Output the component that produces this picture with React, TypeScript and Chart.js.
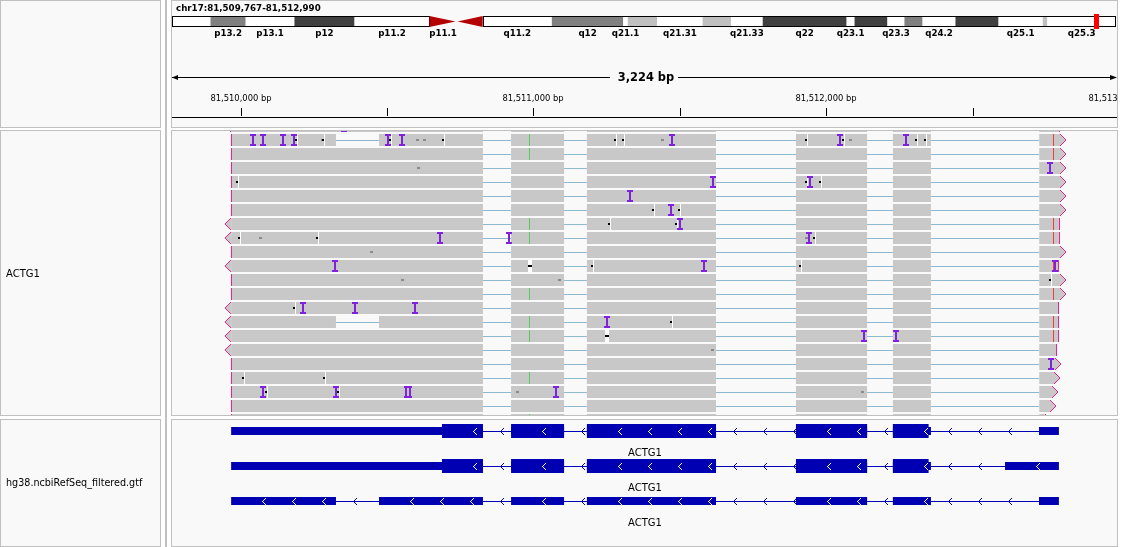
import React, { useEffect, useRef } from 'react';
import { Chart, registerables } from 'chart.js';

Chart.register(...registerables);

/* ---------------- data ---------------- */
const CHROM = 'chr17';
const CHROM_LENGTH = 83257441;
const REGION_START = 81509766;
const REGION_END = 81512990;

const BAND_NAMES = ['p13.3', 'p13.2', 'p13.1', 'p12', 'p11.2', 'p11.1', 'q11.1', 'q11.2', 'q12', 'q21.1', 'q21.2', 'q21.31', 'q21.32', 'q21.33', 'q22', 'q23.1', 'q23.2', 'q23.3', 'q24.1', 'q24.2', 'q24.3', 'q25.1', 'q25.2', 'q25.3'];
const BAND_STARTS = [0, 3400000, 6500000, 10800000, 16100000, 22700000, 25100000, 27400000, 33500000, 39800000, 40200000, 42800000, 46800000, 49300000, 52100000, 59500000, 60200000, 63100000, 64600000, 66200000, 69100000, 72900000, 76800000, 77200000];
const BAND_ENDS = [3400000, 6500000, 10800000, 16100000, 22700000, 25100000, 27400000, 33500000, 39800000, 40200000, 42800000, 46800000, 49300000, 52100000, 59500000, 60200000, 63100000, 64600000, 66200000, 69100000, 72900000, 76800000, 77200000, 83257441];
const BAND_STAINS = ['gneg', 'gpos50', 'gneg', 'gpos75', 'gneg', 'acen', 'acen', 'gneg', 'gpos50', 'gneg', 'gpos25', 'gneg', 'gpos25', 'gneg', 'gpos75', 'gneg', 'gpos75', 'gneg', 'gpos50', 'gneg', 'gpos75', 'gneg', 'gpos25', 'gneg'];
const BAND_LABELLED = [false, true, true, true, true, true, false, true, true, true, false, true, false, true, true, true, false, true, false, true, false, true, false, true];

const RULER_TICKS = [81510000, 81510500, 81511000, 81511500, 81512000, 81512500, 81513000];

const TRACK_NAMES = ['ACTG1', 'hg38.ncbiRefSeq_filtered.gtf'];

// alignments (row index, strand, end position)
const READ_ROWS = [-1, 0, 1, 2, 3, 4, 5, 6, 7, 8, 9, 10, 11, 12, 13, 14, 15, 16, 17, 18, 19, 20];
const READ_STRANDS = ['-', '+', '+', '+', '+', '+', '+', '-', '-', '+', '-', '+', '+', '-', '-', '-', '-', '+', '+', '+', '+', '+'];
const READ_ENDS = [81512799, 81512799, 81512799, 81512799, 81512799, 81512799, 81512799, 81512799, 81512799, 81512799, 81512795, 81512799, 81512799, 81512795, 81512794, 81512794, 81512788, 81512783, 81512779, 81512773, 81512765, 81512747];
const READ_BLOCK_STARTS = [81509968, 81510924, 81511183, 81511897, 81512228, 81512728];
const READ_BLOCK_ENDS = [81510828, 81511105, 81511624, 81512140, 81512358];
const READ_GAP_ROWS = [0, 13];
const READ_GAP = [81510326, 81510473];

const INSERTIONS: [number, number][] = [
  [-1, 81510353],
  [0, 81510042], [0, 81510076], [0, 81510144], [0, 81510183], [0, 81510503], [0, 81510551], [0, 81511474], [0, 81512047], [0, 81512273],
  [2, 81512765],
  [3, 81511614], [3, 81511945],
  [4, 81511330],
  [5, 81511470],
  [6, 81511500],
  [7, 81510680], [7, 81510917], [7, 81511941],
  [9, 81510323], [9, 81511583], [9, 81512782],
  [12, 81510213], [12, 81510391], [12, 81510596],
  [13, 81511252],
  [14, 81512128], [14, 81512240],
  [16, 81512768],
  [18, 81510076], [18, 81510325], [18, 81511077],
];
const DOUBLE_INSERTIONS: [number, number][] = [[18, 81510573]];
const SMALL_DELETIONS: [number, number][] = [
  [0, 81510190], [0, 81510282], [0, 81510511], [0, 81510692], [0, 81511279], [0, 81511306], [0, 81511931], [0, 81512056], [0, 81512307], [0, 81512336],
  [3, 81509988], [3, 81511931], [3, 81511979],
  [5, 81511409], [5, 81511498],
  [6, 81511258], [6, 81511487],
  [7, 81509995], [7, 81510260], [7, 81511960],
  [9, 81511199], [9, 81511911],
  [10, 81512764],
  [12, 81510183],
  [13, 81511469],
  [17, 81510008], [17, 81510286],
  [18, 81510086], [18, 81510333],
];
const DELETIONS: [number, number][] = [[9, 81510985], [14, 81511248]];
const LOWQ_MISMATCHES: [number, number][] = [
  [0, 81510277], [0, 81510603], [0, 81510627], [0, 81511441], [0, 81512080],
  [2, 81510606],
  [7, 81510067], [7, 81511931],
  [8, 81510446],
  [10, 81510552], [10, 81511088],
  [15, 81511610],
  [18, 81510944], [18, 81512124],
];
const MISMATCH_A: [number, number][] = [[0, 81510985], [1, 81510985], [6, 81510985], [7, 81510985], [11, 81510985], [13, 81510985], [14, 81510985], [17, 81510985], [20, 81510985]];
const MISMATCH_T: [number, number][] = [[0, 81512775], [1, 81512775], [6, 81512775], [7, 81512775], [9, 81512775], [11, 81512775], [13, 81512775], [14, 81512775]];

// transcripts
const TX_NAMES = ['ACTG1', 'ACTG1', 'ACTG1'];
const TX_EXON_STARTS = [
  [81509968, 81510924, 81511183, 81511897, 81512228, 81512727],
  [81509968, 81510924, 81511183, 81511897, 81512228, 81512611],
  [81509968, 81510473, 81510924, 81511183, 81511897, 81512228, 81512727],
];
const TX_EXON_ENDS = [
  [81510828, 81511105, 81511624, 81512140, 81512358, 81512795],
  [81510828, 81511105, 81511624, 81512140, 81512358, 81512795],
  [81510326, 81510828, 81511105, 81511624, 81512140, 81512358, 81512795],
];
const TX_CDS_START: (number | null)[] = [81510688, 81510688, null];
const TX_CDS_END: (number | null)[] = [81512350, 81512350, null];

/* ---------------- layout & style ---------------- */
const W = 1136;
const H = 547;
const DATA_L = 172;
const DATA_R = 1116;
const NAME_R = 160;
const PANEL_L = 171;
const PANEL_R = 1117;
const HEADER_Y = [0, 127];
const READS_Y = [130, 415];
const GENES_Y = [419, 546];
const IDEO_Y = 21;
const IDEO_H = 10;
const READ_Y0 = 140;
const READ_PITCH = 14;
const READ_H = 12;
const GENE_Y0 = 431;
const GENE_PITCH = 35;

const PANEL_BG = '#f9f9f9';
const BORDER = '#c0c0c0';
const READ_GREY = '#c8c8c8';
const JUNCTION = '#8cb9cf';
const PINK = '#f0208c';
const INS = '#8022d8';
const GENE_BLUE = '#0000b2';
const STAIN_COLORS: Record<string, string> = { gneg: '#ffffff', gpos25: '#c0c0c0', gpos50: '#808080', gpos75: '#404040', acen: '#b40000' };

const fmt = (n: number) => n.toLocaleString('en-US');

function readBlocks(idx: number): [number, number][] {
  const row = READ_ROWS[idx];
  const ends = [...READ_BLOCK_ENDS, READ_ENDS[idx]];
  let blocks: [number, number][] = READ_BLOCK_STARTS.map((s, k) => [s, ends[k]] as [number, number]);
  if (READ_GAP_ROWS.includes(row)) {
    blocks = blocks.flatMap(([s, e]) =>
      READ_GAP[0] > s && READ_GAP[1] < e ? [[s, READ_GAP[0]], [READ_GAP[1], e]] as [number, number][] : [[s, e]] as [number, number][]
    );
  }
  return blocks;
}

function panel(ctx: CanvasRenderingContext2D, x0: number, y0: number, x1: number, y1: number) {
  ctx.fillStyle = PANEL_BG;
  ctx.fillRect(x0, y0, x1 - x0 + 1, y1 - y0 + 1);
  ctx.fillStyle = BORDER;
  ctx.fillRect(x0, y0, x1 - x0 + 1, 1);
  ctx.fillRect(x0, y1, x1 - x0 + 1, 1);
  ctx.fillRect(x0, y0, 1, y1 - y0 + 1);
  ctx.fillRect(x1, y0, 1, y1 - y0 + 1);
}

function clipRect(ctx: CanvasRenderingContext2D, x: number, y: number, w: number, h: number) {
  ctx.beginPath();
  ctx.rect(x, y, w, h);
  ctx.clip();
}

function chevron(ctx: CanvasRenderingContext2D, x: number, cy: number) {
  for (let i = 0; i <= 3; i++) {
    ctx.fillRect(x + i, cy - i, 1, 1);
    ctx.fillRect(x + i, cy + i, 1, 1);
  }
}

const igvPlugin = {
  id: 'igvTracks',
  beforeDraw(chart: any) {
    const ctx: CanvasRenderingContext2D = chart.ctx;
    ctx.save();
    ctx.fillStyle = '#ffffff';
    ctx.fillRect(0, 0, W, H);
    panel(ctx, 0, HEADER_Y[0], NAME_R, HEADER_Y[1]);
    panel(ctx, 0, READS_Y[0], NAME_R, READS_Y[1]);
    panel(ctx, 0, GENES_Y[0], NAME_R, GENES_Y[1]);
    panel(ctx, PANEL_L, HEADER_Y[0], PANEL_R, HEADER_Y[1]);
    panel(ctx, PANEL_L, READS_Y[0], PANEL_R, READS_Y[1]);
    panel(ctx, PANEL_L, GENES_Y[0], PANEL_R, GENES_Y[1]);
    ctx.fillStyle = BORDER;
    ctx.fillRect(165, 0, 2, H);
    ctx.restore();
  },
  beforeDatasetsDraw(chart: any) {
    const ctx: CanvasRenderingContext2D = chart.ctx;
    const xR = chart.scales.xR;
    const yR = chart.scales.yR;
    const yG = chart.scales.yG;
    const px = (v: number) => xR.getPixelForValue(v);
    // junction lines of spliced reads
    ctx.save();
    clipRect(ctx, DATA_L, READS_Y[0] + 1, DATA_R - DATA_L + 1, READS_Y[1] - READS_Y[0] - 1);
    ctx.fillStyle = JUNCTION;
    READ_ROWS.forEach((row, idx) => {
      const cy = Math.round(yR.getPixelForValue(row));
      const blocks = readBlocks(idx);
      for (let k = 0; k < blocks.length - 1; k++) {
        const a = px(blocks[k][1]);
        const b = px(blocks[k + 1][0]);
        ctx.fillRect(a, cy, b - a, 1);
      }
    });
    ctx.restore();
    // intron lines of transcripts
    ctx.save();
    ctx.fillStyle = GENE_BLUE;
    TX_EXON_STARTS.forEach((starts, t) => {
      const cy = Math.round(yG.getPixelForValue(t));
      const ends = TX_EXON_ENDS[t];
      for (let k = 0; k < starts.length - 1; k++) {
        const a = px(ends[k]);
        const b = px(starts[k + 1]);
        ctx.fillRect(a, cy, b - a, 1);
      }
    });
    ctx.restore();
  },
  afterDatasetsDraw(chart: any) {
    const ctx: CanvasRenderingContext2D = chart.ctx;
    const xR = chart.scales.xR;
    const xI = chart.scales.xI;
    const yR = chart.scales.yR;
    const yG = chart.scales.yG;
    const px = (v: number) => xR.getPixelForValue(v);
    const ix = (v: number) => xI.getPixelForValue(v);

    /* ---- ideogram ---- */
    ctx.save();
    const iTop = IDEO_Y - IDEO_H / 2;
    const iBot = IDEO_Y + IDEO_H / 2;
    const cenP = BAND_STAINS.indexOf('acen');
    const cenQ = BAND_STAINS.lastIndexOf('acen');
    ctx.strokeStyle = '#000000';
    ctx.lineWidth = 1;
    const pa0 = Math.round(ix(0));
    const pa1 = Math.round(ix(BAND_STARTS[cenP]));
    const qa0 = Math.round(ix(BAND_ENDS[cenQ]));
    const qa1 = Math.round(ix(CHROM_LENGTH));
    ctx.strokeRect(pa0 + 0.5, iTop + 0.5, pa1 - pa0, IDEO_H);
    ctx.strokeRect(qa0 + 0.5, iTop + 0.5, qa1 - qa0 - 1, IDEO_H);
    ctx.fillStyle = STAIN_COLORS.acen;
    ctx.beginPath();
    ctx.moveTo(ix(BAND_STARTS[cenP]), iTop);
    ctx.lineTo(ix(BAND_ENDS[cenP]) - 1, IDEO_Y + 0.5);
    ctx.lineTo(ix(BAND_STARTS[cenP]), iBot + 1);
    ctx.closePath();
    ctx.fill();
    ctx.beginPath();
    ctx.moveTo(ix(BAND_ENDS[cenQ]), iTop);
    ctx.lineTo(ix(BAND_STARTS[cenQ]) + 1, IDEO_Y + 0.5);
    ctx.lineTo(ix(BAND_ENDS[cenQ]), iBot + 1);
    ctx.closePath();
    ctx.fill();
    // current region marker
    ctx.fillStyle = '#ff0000';
    const rc = Math.round(ix((REGION_START + REGION_END) / 2));
    ctx.fillRect(rc - 2, iTop - 2, 5, IDEO_H + 5);
    // band labels
    ctx.fillStyle = '#000000';
    ctx.font = "bold 8.7px 'DejaVu Sans'";
    ctx.textAlign = 'center';
    ctx.textBaseline = 'alphabetic';
    BAND_NAMES.forEach((name, i) => {
      if (!BAND_LABELLED[i]) return;
      ctx.fillText(name, (ix(BAND_STARTS[i]) + ix(BAND_ENDS[i])) / 2, 36);
    });
    ctx.textAlign = 'left';
    ctx.fillText(`${CHROM}:${fmt(REGION_START + 1)}-${fmt(REGION_END)}`, 176, 11);
    ctx.restore();

    /* ---- ruler ---- */
    ctx.save();
    clipRect(ctx, DATA_L, HEADER_Y[0] + 1, DATA_R - DATA_L + 1, HEADER_Y[1] - HEADER_Y[0] - 1);
    ctx.fillStyle = '#000000';
    ctx.font = "bold 11.4px 'DejaVu Sans'";
    ctx.textAlign = 'center';
    const spanLabel = `${fmt(REGION_END - REGION_START)} bp`;
    const tw = ctx.measureText(spanLabel).width;
    const mid = (px(REGION_START) + px(REGION_END)) / 2 + 2;
    ctx.fillText(spanLabel, mid, 81);
    const gapL = Math.round(mid - tw / 2 - 8);
    const gapR = Math.round(mid + tw / 2 + 4);
    ctx.fillRect(DATA_L, 77, gapL - DATA_L, 1);
    ctx.fillRect(gapR, 77, DATA_R - gapR, 1);
    ctx.beginPath();
    ctx.moveTo(DATA_L, 77.5);
    ctx.lineTo(DATA_L + 6, 75);
    ctx.lineTo(DATA_L + 6, 80);
    ctx.closePath();
    ctx.fill();
    ctx.beginPath();
    ctx.moveTo(DATA_R + 1, 77.5);
    ctx.lineTo(DATA_R - 6, 75);
    ctx.lineTo(DATA_R - 6, 80);
    ctx.closePath();
    ctx.fill();
    ctx.font = "8.4px 'DejaVu Sans'";
    RULER_TICKS.forEach((t) => {
      const x = Math.round(px(t));
      ctx.fillRect(x, 108, 1, 8);
      if (t % 1000 === 0) ctx.fillText(`${fmt(t)} bp`, x, 101);
    });
    ctx.fillRect(DATA_L, 117, DATA_R - DATA_L + 1, 1);
    ctx.restore();

    /* ---- alignments decorations ---- */
    ctx.save();
    clipRect(ctx, DATA_L, READS_Y[0] + 1, DATA_R - DATA_L + 1, READS_Y[1] - READS_Y[0] - 1);
    const rowTop = (row: number) => Math.round(yR.getPixelForValue(row)) - READ_H / 2;
    READ_ROWS.forEach((row, idx) => {
      const top = rowTop(row);
      const xs = Math.round(px(READ_BLOCK_STARTS[0]));
      const xe = Math.round(px(READ_ENDS[idx]));
      if (READ_STRANDS[idx] === '+') {
        ctx.fillStyle = PINK;
        ctx.fillRect(xs, top, 1, READ_H);
        for (let i = 0; i < READ_H / 2; i++) {
          ctx.fillStyle = READ_GREY;
          ctx.fillRect(xe + i, top + i, 1, READ_H - 2 * i);
          ctx.fillStyle = PINK;
          ctx.fillRect(xe + i, top + i, 1, 1);
          ctx.fillRect(xe + i, top + READ_H - 1 - i, 1, 1);
        }
      } else {
        ctx.fillStyle = PINK;
        ctx.fillRect(xe - 1, top, 1, READ_H);
        for (let i = 0; i < READ_H / 2; i++) {
          ctx.fillStyle = READ_GREY;
          ctx.fillRect(xs - 1 - i, top + i, 1, READ_H - 2 * i);
          ctx.fillStyle = PINK;
          ctx.fillRect(xs - 1 - i, top + i, 1, 1);
          ctx.fillRect(xs - 1 - i, top + READ_H - 1 - i, 1, 1);
        }
      }
    });
    MISMATCH_A.forEach(([row, pos]) => {
      ctx.fillStyle = '#55cf55';
      ctx.fillRect(Math.round(px(pos)), rowTop(row), 1, READ_H);
    });
    MISMATCH_T.forEach(([row, pos]) => {
      ctx.fillStyle = '#f03c3c';
      ctx.fillRect(Math.round(px(pos)), rowTop(row), 1, READ_H);
    });
    LOWQ_MISMATCHES.forEach(([row, pos]) => {
      ctx.fillStyle = '#8a8a8a';
      ctx.fillRect(Math.round(px(pos)) - 1, rowTop(row) + READ_H / 2 - 1, 3, 2);
    });
    SMALL_DELETIONS.forEach(([row, pos]) => {
      const x0 = Math.round(px(pos));
      const top = rowTop(row);
      ctx.fillStyle = '#ffffff';
      ctx.fillRect(x0 + 1, top, 1, READ_H);
      ctx.fillStyle = '#000000';
      ctx.fillRect(x0 - 1, top + READ_H / 2 - 1, 2, 2);
    });
    DELETIONS.forEach(([row, pos]) => {
      const x0 = Math.round(px(pos));
      const top = rowTop(row);
      ctx.fillStyle = '#ffffff';
      ctx.fillRect(x0 - 1, top, 4, READ_H);
      ctx.fillStyle = '#000000';
      ctx.fillRect(x0 - 1, top + READ_H / 2 - 1, 4, 2);
    });
    ctx.fillStyle = INS;
    INSERTIONS.forEach(([row, pos]) => {
      const x0 = Math.round(px(pos));
      const top = rowTop(row);
      ctx.fillRect(x0 - 1, top, 2, READ_H);
      ctx.fillRect(x0 - 3, top, 6, 2);
      ctx.fillRect(x0 - 3, top + READ_H - 2, 6, 2);
    });
    DOUBLE_INSERTIONS.forEach(([row, pos]) => {
      const x0 = Math.round(px(pos));
      const top = rowTop(row);
      ctx.fillRect(x0 - 3, top, 2, READ_H);
      ctx.fillRect(x0 + 1, top, 2, READ_H);
      ctx.fillRect(x0 - 4, top, 8, 2);
      ctx.fillRect(x0 - 4, top + READ_H - 2, 8, 2);
    });
    ctx.restore();

    /* ---- transcript strand arrows and names ---- */
    ctx.save();
    TX_EXON_STARTS.forEach((starts, t) => {
      const cy = Math.round(yG.getPixelForValue(t));
      const ends = TX_EXON_ENDS[t];
      const cs = TX_CDS_START[t];
      const ce = TX_CDS_END[t];
      ctx.fillStyle = GENE_BLUE;
      for (let k = 0; k < starts.length - 1; k++) {
        const a = px(ends[k]);
        const b = px(starts[k + 1]);
        for (let x = a + 17; x <= b; x += 30) chevron(ctx, Math.round(x), cy);
      }
      ctx.fillStyle = '#ffffff';
      starts.forEach((s, k) => {
        let a = s;
        let b = ends[k];
        if (cs != null && ce != null && Math.min(b, ce) > Math.max(a, cs)) {
          a = Math.max(a, cs);
          b = Math.min(b, ce);
        }
        const pa = px(a);
        const pb = px(b);
        for (let x = pa + 31; x < pb - 2; x += 30) chevron(ctx, Math.round(x), cy);
      });
      ctx.fillStyle = '#000000';
      ctx.font = "10px 'DejaVu Sans'";
      ctx.textAlign = 'center';
      ctx.fillText(TX_NAMES[t], (px(starts[0]) + px(ends[ends.length - 1])) / 2, cy + 25);
    });
    ctx.restore();

    /* ---- track names ---- */
    ctx.save();
    ctx.fillStyle = '#000000';
    ctx.textAlign = 'left';
    ctx.font = "10px 'DejaVu Sans'";
    ctx.fillText(TRACK_NAMES[0], 6, 277);
    ctx.font = "9.6px 'DejaVu Sans'";
    ctx.fillText(TRACK_NAMES[1], 6, 486);
    ctx.restore();
  },
};

function buildConfig(): any {
  const ideoData: any[] = [];
  const ideoColors: string[] = [];
  BAND_NAMES.forEach((_, i) => {
    if (BAND_STAINS[i] === 'acen') return;
    ideoData.push({ x: [BAND_STARTS[i], BAND_ENDS[i]], y: IDEO_Y });
    ideoColors.push(STAIN_COLORS[BAND_STAINS[i]]);
  });

  const readData: any[] = [];
  READ_ROWS.forEach((row, idx) => {
    readBlocks(idx).forEach(([s, e]) => readData.push({ x: [s, e], y: row }));
  });

  const thinData: any[] = [];
  const thickData: any[] = [];
  TX_EXON_STARTS.forEach((starts, t) => {
    starts.forEach((s, k) => {
      const e = TX_EXON_ENDS[t][k];
      thinData.push({ x: [s, e], y: t });
      const cs = TX_CDS_START[t];
      const ce = TX_CDS_END[t];
      if (cs != null && ce != null) {
        const a = Math.max(s, cs);
        const b = Math.min(e, ce);
        if (b > a) thickData.push({ x: [a, b], y: t });
      }
    });
  });

  const common = { grouped: false, borderWidth: 0, inflateAmount: 0, borderSkipped: false };
  const lin = (axis: string, min: number, max: number, reverse = false) => ({
    type: 'linear', axis, display: false, min, max, reverse, offset: false, bounds: 'data', grid: { display: false },
  });

  return {
    type: 'bar',
    data: {
      datasets: [
        { label: 'cds', data: thickData, xAxisID: 'xR', yAxisID: 'yG', backgroundColor: GENE_BLUE, barThickness: 14, ...common },
        { label: 'exons', data: thinData, xAxisID: 'xR', yAxisID: 'yG', backgroundColor: GENE_BLUE, barThickness: 8, ...common },
        {
          label: 'reads', data: readData, xAxisID: 'xR', yAxisID: 'yR', backgroundColor: READ_GREY, barThickness: READ_H,
          clip: { left: 0, right: 0, top: -(READS_Y[0] + 1), bottom: -(H - READS_Y[1]) }, ...common,
        },
        { label: 'ideogram', data: ideoData, xAxisID: 'xI', yAxisID: 'yP', backgroundColor: ideoColors, barThickness: IDEO_H, ...common },
      ],
    },
    options: {
      indexAxis: 'y',
      animation: false,
      responsive: false,
      devicePixelRatio: 1,
      events: [],
      layout: { padding: { left: DATA_L, right: W - DATA_R, top: 0, bottom: 0 } },
      plugins: { legend: { display: false }, tooltip: { enabled: false }, title: { display: false } },
      scales: {
        xR: { ...lin('x', REGION_START, REGION_END), position: 'bottom' },
        xI: { ...lin('x', 0, CHROM_LENGTH), position: 'top' },
        yP: { ...lin('y', 0, H, true), position: 'left' },
        yR: { ...lin('y', -READ_Y0 / READ_PITCH, (H - READ_Y0) / READ_PITCH, true), position: 'left' },
        yG: { ...lin('y', -GENE_Y0 / GENE_PITCH, (H - GENE_Y0) / GENE_PITCH, true), position: 'left' },
      },
    },
    plugins: [igvPlugin],
  };
}

export default function App() {
  const ref = useRef<HTMLCanvasElement | null>(null);
  useEffect(() => {
    const canvas = ref.current;
    if (!canvas) return;
    const chart = new Chart(canvas, buildConfig());
    return () => chart.destroy();
  }, []);
  return (
    <div style={{ position: 'fixed', left: 0, top: 0, width: W, height: H, background: '#ffffff' }}>
      <canvas ref={ref} width={W} height={H} style={{ display: 'block', width: W, height: H }} />
    </div>
  );
}
